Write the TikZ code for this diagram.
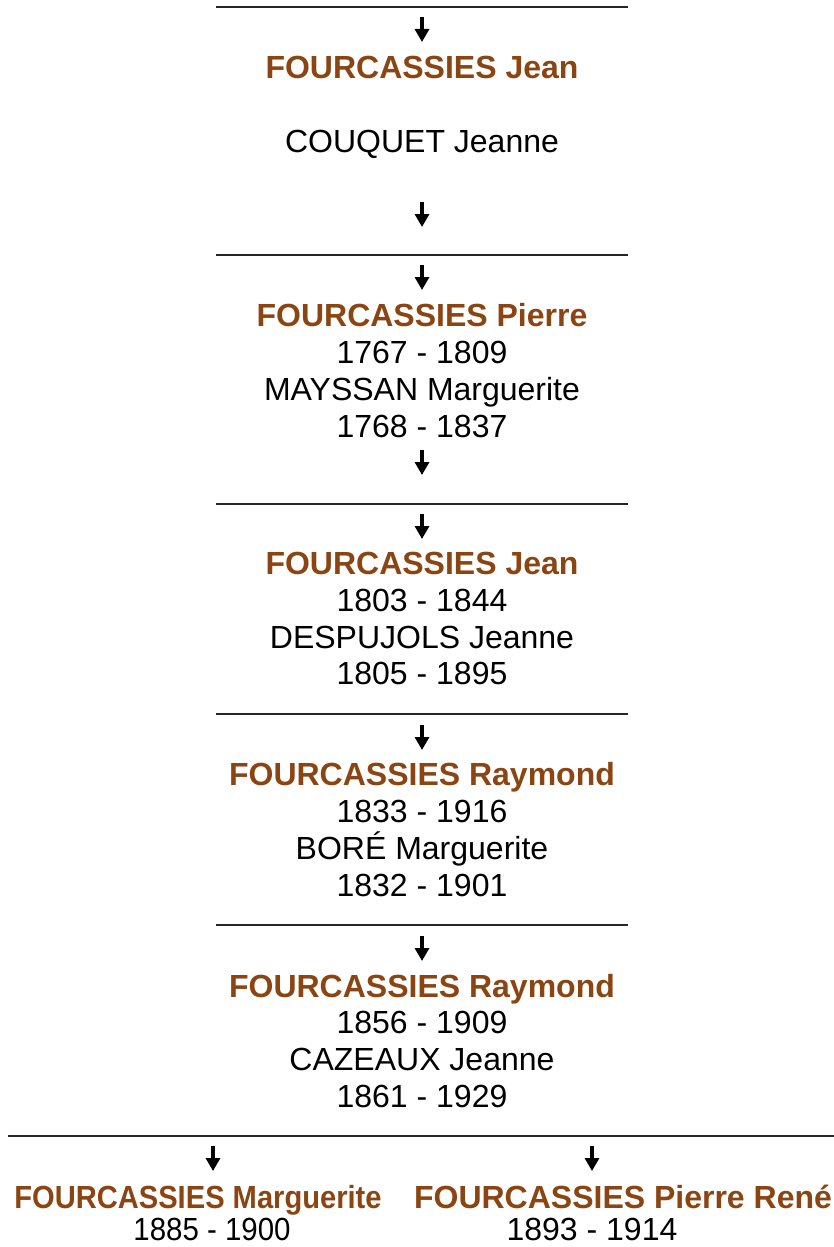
\documentclass[tikz,border=0pt]{standalone}
\usepackage{fontspec}
\setmainfont{Liberation Sans}
\usetikzlibrary{arrows.meta}
\definecolor{brn}{RGB}{139,69,19}
\begin{document}
\begin{tikzpicture}[x=1pt,y=-1pt,
  nm/.style={font=\fontsize{32}{38}\selectfont\bfseries, text=brn, inner sep=0, anchor=base},
  tx/.style={font=\fontsize{32}{38}\selectfont, inner sep=0, anchor=base},
  rulel/.style={line width=1.6pt, draw=black!85},
  arr/.style={line width=3.6pt, -{Triangle[width=14pt,length=13pt]}}]
\useasboundingbox (0,0) rectangle (834,1247);
% rules
\coordinate (r1a) at (216,7);   \coordinate (r1b) at (628,7);
\coordinate (r2a) at (216,255); \coordinate (r2b) at (628,255);
\coordinate (r3a) at (216,504); \coordinate (r3b) at (628,504);
\coordinate (r4a) at (216,714); \coordinate (r4b) at (628,714);
\coordinate (r5a) at (216,925); \coordinate (r5b) at (628,925);
\coordinate (r6a) at (8,1136);  \coordinate (r6b) at (834,1136);
\foreach \i in {1,...,6} {\draw[rulel] (r\i a) -- (r\i b);}
% texts
\node[nm] (j1) at (422,78.5) {FOURCASSIES Jean};
\node[tx] (c1) at (422,152.5) {COUQUET Jeanne};
\node[nm] (p1) at (422,326.5) {FOURCASSIES Pierre};
\node[tx] (d1) at (422,363.5) {1767 - 1809};
\node[tx] (m1) at (422,400.5) {MAYSSAN Marguerite};
\node[tx] (d2) at (422,437.5) {1768 - 1837};
\node[nm] (j2) at (422,574.5) {FOURCASSIES Jean};
\node[tx] (d3) at (422,611.5) {1803 - 1844};
\node[tx] (s2) at (422,648.5) {DESPUJOLS Jeanne};
\node[tx] (d4) at (422,684.5) {1805 - 1895};
\node[nm] (ra1) at (422,785.5) {FOURCASSIES Raymond};
\node[tx] (d5) at (422,822.5) {1833 - 1916};
\node[tx] (s3) at (422,859.5) {BORÉ Marguerite};
\node[tx] (d6) at (422,896.5) {1832 - 1901};
\node[nm] (ra2) at (422,997.5) {FOURCASSIES Raymond};
\node[tx] (d7) at (422,1033.5) {1856 - 1909};
\node[tx] (s4) at (422,1070.5) {CAZEAUX Jeanne};
\node[tx] (d8) at (422,1107.5) {1861 - 1929};
\node[nm] (k1) at (198,1208) {\scalebox{0.91}[1]{FOURCASSIES Marguerite}};
\node[tx] (e1) at (212,1240) {\scalebox{0.92}[1]{1885 - 1900}};
\node[nm] (k2) at (623,1208) {FOURCASSIES Pierre René};
\node[tx] (e2) at (592,1240) {1893 - 1914};
% arrows
\foreach \n/\x/\t in {a1/422/17, a2/422/202, a3/422/265, a4/422/450, a5/422/514, a6/422/725, a7/422/936, a8/213/1146, a9/592/1146} {
  \coordinate (\n s) at (\x,\t);
  \coordinate (\n e) at (\x,\t+25);
  \draw[arr] (\n s) -- (\n e);
}
\end{tikzpicture}
\end{document}
